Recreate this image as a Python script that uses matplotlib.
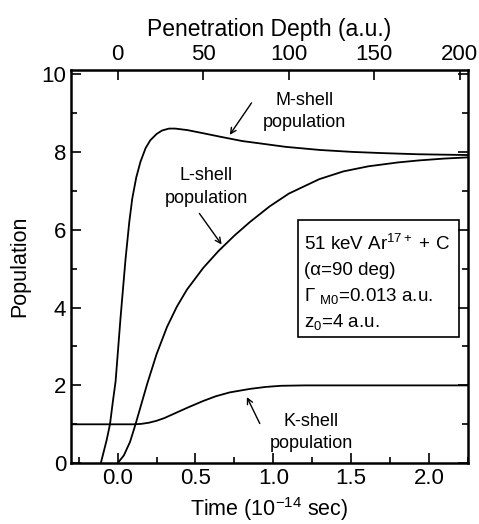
import matplotlib
matplotlib.use('Agg')
import matplotlib.pyplot as plt
from matplotlib.patches import Rectangle

plt.rcParams['font.family'] = ['Liberation Sans', 'DejaVu Sans']
plt.rcParams['mathtext.fontset'] = 'custom'
plt.rcParams['mathtext.rm'] = 'Liberation Sans'
plt.rcParams['mathtext.it'] = 'Liberation Sans:italic'

# curves: time (1e-14 s) vs population
m_t = [-0.108, -0.07, -0.049, -0.03, -0.013, 0.019, 0.051, 0.075, 0.094, 0.12, 0.147,
       0.18, 0.21, 0.25, 0.285, 0.33, 0.37, 0.45, 0.55, 0.66, 0.8, 0.95, 1.08, 1.3,
       1.51, 1.7, 1.93, 2.25]
m_pop = [0.0, 0.6, 1.0, 1.6, 2.1, 3.75, 5.25, 6.2, 6.8, 7.35, 7.75,
         8.1, 8.3, 8.46, 8.55, 8.6, 8.6, 8.56, 8.48, 8.39, 8.28, 8.2, 8.13, 8.05,
         8.0, 7.97, 7.94, 7.92]

l_t = [0.0, 0.04, 0.08, 0.115, 0.19, 0.25, 0.317, 0.38, 0.445, 0.55, 0.647, 0.75,
       0.85, 0.976, 1.1, 1.295, 1.45, 1.61, 1.8, 1.93, 2.1, 2.25]
l_pop = [0.0, 0.2, 0.55, 1.0, 2.04, 2.8, 3.5, 4.02, 4.46, 5.02, 5.45, 5.85,
         6.2, 6.6, 6.93, 7.3, 7.5, 7.63, 7.73, 7.78, 7.83, 7.86]

k_t = [-0.3, 0.1, 0.15, 0.2, 0.25, 0.3, 0.35, 0.45, 0.55, 0.63, 0.72, 0.85, 0.95,
       1.05, 1.2, 2.25]
k_pop = [1.0, 1.0, 1.01, 1.04, 1.09, 1.16, 1.25, 1.43, 1.6, 1.72, 1.82, 1.91, 1.96,
         1.99, 2.0, 2.0]

depth_per_time = 91.0
depth_ticks = [0, 50, 100, 150, 200]
box_lines = ['51 keV Ar$\\mathregular{^{17+}}$ + C',
             '(\u03b1=90 deg)',
             '\u0393 $\\mathregular{_{M0}}$=0.013 a.u.',
             'z$\\mathregular{_0}$=4 a.u.']

fig = plt.figure(figsize=(4.79, 5.24), dpi=100)
ax = fig.add_axes([0.148, 0.116, 0.829, 0.750])

for t, p in [(m_t, m_pop), (l_t, l_pop), (k_t, k_pop)]:
    ax.plot(t, p, color='black', lw=1.3)

ax.set_xlim(-0.3, 2.25)
ax.set_ylim(0, 10.1)
ax.set_xticks([0.0, 0.5, 1.0, 1.5, 2.0])
ax.set_xticks([-0.25, 0.25, 0.75, 1.25, 1.75, 2.25], minor=True)
ax.set_yticks([0, 2, 4, 6, 8, 10])
ax.set_yticks([1, 3, 5, 7, 9], minor=True)
ax.tick_params(which='both', direction='in', right=True, top=False, width=1.2,
               labelsize=16)
ax.tick_params(which='major', length=7)
ax.tick_params(which='minor', length=4)
for s in ax.spines.values():
    s.set_linewidth(1.8)

ax.set_xlabel('Time (10$\\mathregular{^{-14}}$ sec)', fontsize=15.5)
ax.set_ylabel('Population', fontsize=15.5, labelpad=8)

top = ax.secondary_xaxis('top', functions=(lambda t: t * depth_per_time,
                                           lambda d: d / depth_per_time))
top.set_xticks(depth_ticks)
top.tick_params(direction='in', length=7, width=1.2, labelsize=16)
top.set_xlabel('Penetration Depth (a.u.)', fontsize=16.5, labelpad=6)

ann = dict(fontsize=13, ha='center', va='center', linespacing=1.45)
arrow = dict(arrowstyle='->', color='black', lw=1.0, shrinkA=0, shrinkB=0)
ax.text(1.20, 9.04, 'M-shell\npopulation', **ann)
ax.annotate('', xy=(0.72, 8.44), xytext=(0.86, 9.26), arrowprops=arrow)
ax.text(0.57, 7.1, 'L-shell\npopulation', **ann)
ax.annotate('', xy=(0.668, 5.62), xytext=(0.525, 6.42), arrowprops=arrow)
ax.text(1.245, 0.79, 'K-shell\npopulation', **ann)
ax.annotate('', xy=(0.83, 1.7), xytext=(0.913, 1.02), arrowprops=arrow)

ax.add_patch(Rectangle((0.572, 0.32), 0.405, 0.298, transform=ax.transAxes,
                       fill=False, edgecolor='black', lw=1.2))
for i, line in enumerate(box_lines):
    ax.text(0.588, 0.557 - i * 0.066, line, transform=ax.transAxes,
            fontsize=13.5, ha='left', va='center')

fig.savefig('out.png', dpi=100)
